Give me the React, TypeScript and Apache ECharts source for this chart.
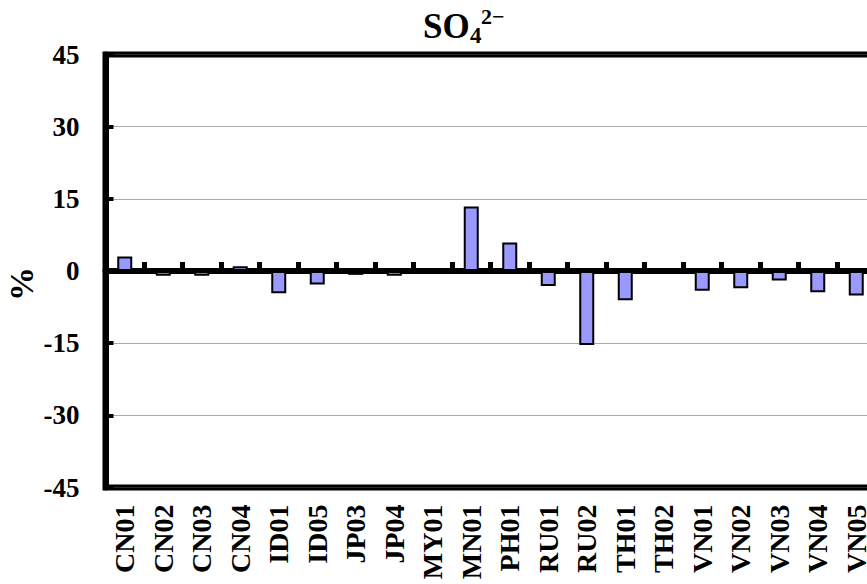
import React, { useEffect, useRef } from 'react';
import * as echarts from 'echarts';

const categories = ['CN01', 'CN02', 'CN03', 'CN04', 'ID01', 'ID05', 'JP03', 'JP04', 'MY01', 'MN01', 'PH01', 'RU01', 'RU02', 'TH01', 'TH02', 'VN01', 'VN02', 'VN03', 'VN04', 'VN05'];
const values = [3.0, -1.0, -1.0, 1.0, -4.6, -2.8, -0.8, -1.0, 0, 13.4, 5.9, -3.1, -15.4, -6.1, 0.3, -4.1, -3.6, -2.0, -4.4, -5.1];
const yMin = -45;
const yMax = 45;
const yInterval = 15;
const titleMain = 'SO';
const titleSub = '4';
const titleSup = '2−';
const yName = '%';

const FONT = "'Liberation Serif', 'Times New Roman', serif";

export default function App() {
  const ref = useRef<HTMLDivElement>(null);
  useEffect(() => {
    const chart = echarts.init(ref.current!, null, { renderer: 'svg' });
    chart.setOption({
      animation: false,
      grid: {
        left: 105.5,
        top: 54.5,
        width: 770,
        height: 433,
        show: true,
        borderColor: '#000',
        borderWidth: 6,
        backgroundColor: 'transparent',
        outerBoundsMode: 'none',
        containLabel: false,
      },
      xAxis: [
        {
          type: 'category',
          data: categories,
          position: 'bottom',
          axisLine: { show: false, onZero: false },
          axisTick: { show: false },
          splitLine: { show: false },
          axisLabel: {
            rotate: 90,
            margin: 17,
            interval: 0,
            fontFamily: FONT,
            fontWeight: 'bold',
            fontSize: 28,
            color: '#000',
          },
        },
        {
          type: 'category',
          data: categories,
          position: 'bottom',
          axisLine: { show: true, onZero: true, lineStyle: { color: '#000', width: 6 } },
          axisTick: { show: true, inside: true, length: 9, interval: 0, lineStyle: { color: '#000', width: 5 } },
          axisLabel: { show: false },
          splitLine: { show: false },
        },
      ],
      yAxis: {
        type: 'value',
        min: yMin,
        max: yMax,
        interval: yInterval,
        axisLine: { show: true, lineStyle: { color: '#000', width: 6 } },
        axisTick: { show: true, inside: true, length: 8, lineStyle: { color: '#000', width: 4 } },
        axisLabel: {
          margin: 26,
          fontFamily: FONT,
          fontWeight: 'bold',
          fontSize: 27,
          color: '#000',
        },
        splitLine: { show: true, lineStyle: { type: 'dotted', color: '#555', width: 1 } },
      },
      series: [
        {
          type: 'bar',
          xAxisIndex: 0,
          data: values,
          barWidth: 15,
          itemStyle: { color: '#9999FF', borderColor: '#000', borderWidth: 2 },
        },
      ],
      graphic: [
        {
          type: 'text',
          x: 423,
          y: 26,
          style: { text: titleMain, font: `bold 35px ${FONT}`, fill: '#000', align: 'left', verticalAlign: 'middle' },
        },
        {
          type: 'text',
          x: 470,
          y: 35,
          style: { text: titleSub, font: `bold 23px ${FONT}`, fill: '#000', align: 'left', verticalAlign: 'middle' },
        },
        {
          type: 'text',
          x: 481,
          y: 16,
          style: { text: titleSup, font: `bold 22px ${FONT}`, fill: '#000', align: 'left', verticalAlign: 'middle' },
        },
        {
          type: 'text',
          x: 21,
          y: 284,
          rotation: Math.PI / 2,
          style: { text: yName, font: `bold 34px ${FONT}`, fill: '#000', align: 'center', verticalAlign: 'middle' },
        },
      ],
    });
    return () => chart.dispose();
  }, []);
  return <div ref={ref} style={{ position: 'absolute', left: 0, top: 0, width: 867, height: 584 }} />;
}
